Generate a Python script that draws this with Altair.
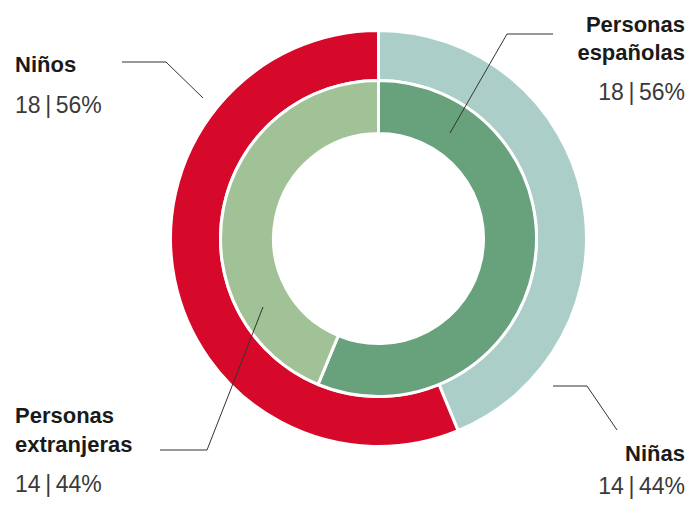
import altair as alt
import pandas as pd

# Outer ring (sex)
outer_cats = ["Niñas", "Niños"]
outer_vals = [14, 18]
outer_pct = [44, 56]
# Inner ring (nationality)
inner_cats = ["Personas españolas", "Personas extranjeras"]
inner_vals = [18, 14]
inner_pct = [56, 44]

all_cats = outer_cats + inner_cats
colors = ["#abcfc8", "#d7092a", "#67a27c", "#a0c296"]

CX, CY = 370.5, 230.5
NAME_FONT = "Liberation Sans"
NUM_FONT = "Liberation Sans"

color_scale = alt.Scale(domain=all_cats, range=colors)

outer_df = pd.DataFrame({"cat": outer_cats, "val": outer_vals, "ord": list(range(len(outer_cats)))})
inner_df = pd.DataFrame({"cat": inner_cats, "val": inner_vals, "ord": list(range(len(inner_cats)))})

outer = alt.Chart(outer_df).mark_arc(
    innerRadius=158, outerRadius=208, stroke="white", strokeWidth=3
).encode(
    theta=alt.Theta("val:Q", stack=True),
    color=alt.Color("cat:N", scale=color_scale, legend=None),
    order=alt.Order("ord:Q"),
    x=alt.value(CX), y=alt.value(CY),
)

inner = alt.Chart(inner_df).mark_arc(
    innerRadius=105, outerRadius=158, stroke="white", strokeWidth=3
).encode(
    theta=alt.Theta("val:Q", stack=True),
    color=alt.Color("cat:N", scale=color_scale, legend=None),
    order=alt.Order("ord:Q"),
    x=alt.value(CX), y=alt.value(CY),
)

one = pd.DataFrame({"a": [0]})

def seg(x1, y1, x2, y2):
    return alt.Chart(one).mark_rule(color="#333333", strokeWidth=1).encode(
        x=alt.value(x1), y=alt.value(y1), x2=alt.value(x2), y2=alt.value(y2)
    )

def txt(s, x, y, align, bold):
    return alt.Chart(pd.DataFrame({"t": [s]})).mark_text(
        align=align, baseline="alphabetic",
        font=NAME_FONT if bold else NUM_FONT,
        fontSize=22 if bold else 23,
        fontWeight="bold" if bold else "normal",
        color="#1a1a1a" if bold else "#3a3a3a",
    ).encode(x=alt.value(x), y=alt.value(y), text="t:N")

def num(v, p):
    return f"{v}\u2009|\u2009{p}%"

layers = [outer, inner,
    # leader lines
    seg(114, 54, 158, 54), seg(158, 54, 195, 90),
    seg(545, 26, 499, 26), seg(499, 26, 442, 125),
    seg(152, 442, 199, 442), seg(199, 442, 255, 299),
    seg(545, 378, 579, 378), seg(579, 378, 609, 422),
    # labels
    txt(outer_cats[1], 7, 64, "left", True),
    txt(num(outer_vals[1], outer_pct[1]), 7, 105, "left", False),
    txt("Personas", 677, 24, "right", True),
    txt("españolas", 677, 52, "right", True),
    txt(num(inner_vals[0], inner_pct[0]), 677, 92, "right", False),
    txt("Personas", 7, 415, "left", True),
    txt("extranjeras", 7, 444, "left", True),
    txt(num(inner_vals[1], inner_pct[1]), 7, 484, "left", False),
    txt(outer_cats[0], 677, 453, "right", True),
    txt(num(outer_vals[0], outer_pct[0]), 677, 486, "right", False),
]

chart = alt.layer(*layers).properties(
    width=677, height=492, padding=0,
    autosize=alt.AutoSizeParams(type="none"),
).configure_view(stroke=None)

chart.save("out.html", embed_options={"renderer": "svg", "actions": False})
